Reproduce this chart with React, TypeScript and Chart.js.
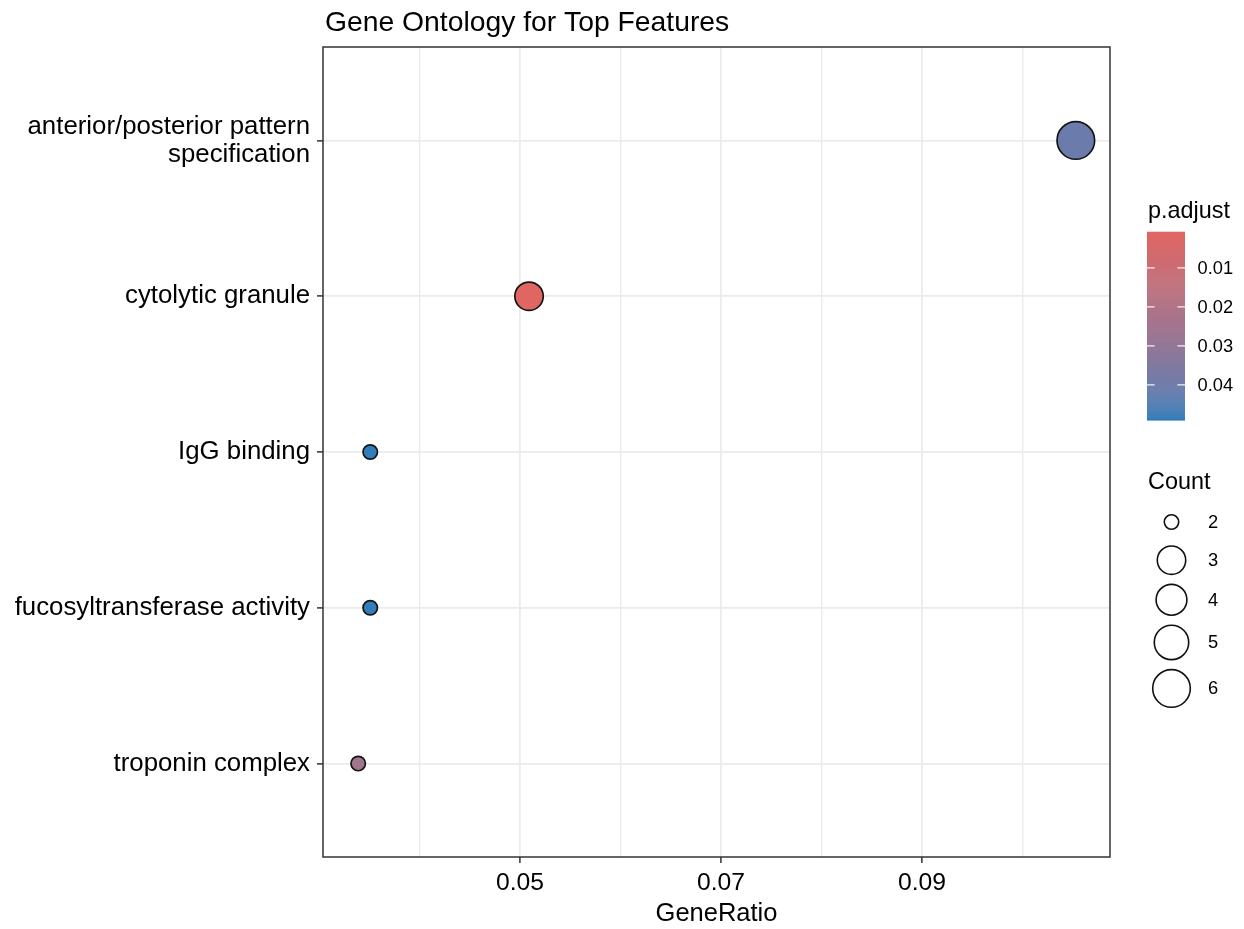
import React, { useEffect, useRef } from "react";
import { Chart, registerables } from "chart.js";

Chart.register(...registerables);

// ---- data ----
const terms: string[][] = [
  ["anterior/posterior pattern", "specification"],
  ["cytolytic granule"],
  ["IgG binding"],
  ["fucosyltransferase activity"],
  ["troponin complex"],
];
const geneRatio = [0.1053, 0.0509, 0.0351, 0.0351, 0.0339];
const geneCount = [6, 3, 2, 2, 2];
const pAdjust = [0.0405, 0.0007, 0.049, 0.0489, 0.0252];

const xMajorTicks = [0.05, 0.07, 0.09];
const xMinorGrid = [0.04, 0.06, 0.08, 0.1];
const colorBreaks = [0.01, 0.02, 0.03, 0.04];
const countBreaks = [2, 3, 4, 5, 6];

// ---- style ----
const FONT = '"Liberation Sans", Arial, sans-serif';
const LOW_COLOR = "#e06663";
const HIGH_COLOR = "#327eba";
const GRID_COLOR = "#ebebeb";
const INK = "#333333";
const COUNT_RADIUS: Record<number, number> = { 2: 7.2, 3: 14.2, 4: 15.4, 5: 17.2, 6: 18.8 };
const X_MIN = 0.0304;
const X_MAX = 0.1087;

// ---- colour interpolation in CIE Lab ----
function hexToRgb(h: string): number[] {
  const v = parseInt(h.slice(1), 16);
  return [(v >> 16) & 255, (v >> 8) & 255, v & 255];
}
const toLin = (c: number) => {
  c /= 255;
  return c <= 0.04045 ? c / 12.92 : Math.pow((c + 0.055) / 1.055, 2.4);
};
const fromLin = (c: number) => {
  const v = c <= 0.0031308 ? 12.92 * c : 1.055 * Math.pow(c, 1 / 2.4) - 0.055;
  return Math.round(Math.max(0, Math.min(1, v)) * 255);
};
const XN = 0.95047, YN = 1, ZN = 1.08883;
function rgbToLab(rgb: number[]): number[] {
  const [r, g, b] = rgb.map(toLin);
  const X = 0.4124 * r + 0.3576 * g + 0.1805 * b;
  const Y = 0.2126 * r + 0.7152 * g + 0.0722 * b;
  const Z = 0.0193 * r + 0.1192 * g + 0.9505 * b;
  const f = (t: number) => (t > 0.008856 ? Math.cbrt(t) : 7.787 * t + 16 / 116);
  const fx = f(X / XN), fy = f(Y / YN), fz = f(Z / ZN);
  return [116 * fy - 16, 500 * (fx - fy), 200 * (fy - fz)];
}
function labToRgb(lab: number[]): number[] {
  const [L, a, b] = lab;
  const fy = (L + 16) / 116;
  const fx = fy + a / 500;
  const fz = fy - b / 200;
  const inv = (t: number) => (t * t * t > 0.008856 ? t * t * t : (t - 16 / 116) / 7.787);
  const X = XN * inv(fx), Y = YN * inv(fy), Z = ZN * inv(fz);
  const r = 3.2406 * X - 1.5372 * Y - 0.4986 * Z;
  const g = -0.9689 * X + 1.8758 * Y + 0.0415 * Z;
  const bb = 0.0557 * X - 0.204 * Y + 1.057 * Z;
  return [fromLin(r), fromLin(g), fromLin(bb)];
}
const LOW_LAB = rgbToLab(hexToRgb(LOW_COLOR));
const HIGH_LAB = rgbToLab(hexToRgb(HIGH_COLOR));
const P_MIN = Math.min(...pAdjust);
const P_MAX = Math.max(...pAdjust);
function colorAt(p: number): string {
  const t = Math.max(0, Math.min(1, (p - P_MIN) / (P_MAX - P_MIN)));
  const lab = LOW_LAB.map((v, i) => v + (HIGH_LAB[i] - v) * t);
  const [r, g, b] = labToRgb(lab);
  return `rgb(${r},${g},${b})`;
}

// ---- title, panel border and legends ----
const decorations = {
  id: "decorations",
  afterDatasetsDraw(chart: any) {
    const { ctx, chartArea: a } = chart;
    ctx.save();
    ctx.strokeStyle = INK;
    ctx.lineWidth = 1.5;
    ctx.strokeRect(a.left, a.top, a.right - a.left, a.bottom - a.top);
    ctx.restore();
  },
  afterDraw(chart: any) {
    const { ctx, chartArea: a } = chart;
    ctx.save();
    ctx.fillStyle = "#000";
    ctx.textAlign = "left";
    ctx.textBaseline = "alphabetic";
    ctx.font = `28.3px ${FONT}`;
    ctx.fillText("Gene Ontology for Top Features", a.left + 2, 31);

    // colour bar
    const lx = a.right + 37;
    ctx.font = `23.4px ${FONT}`;
    ctx.fillText("p.adjust", lx + 1, 218);
    const barTop = 231.7, barH = 188.3, barW = 38;
    const steps = 190;
    for (let i = 0; i < steps; i++) {
      const p = P_MIN + ((i + 0.5) / steps) * (P_MAX - P_MIN);
      ctx.fillStyle = colorAt(p);
      ctx.fillRect(lx, barTop + (i * barH) / steps, barW, barH / steps + 0.6);
    }
    ctx.strokeStyle = "rgba(255,255,255,0.9)";
    ctx.lineWidth = 1.3;
    ctx.font = `18.3px ${FONT}`;
    ctx.textBaseline = "middle";
    for (const b of colorBreaks) {
      const y = barTop + ((b - P_MIN) / (P_MAX - P_MIN)) * barH;
      ctx.beginPath();
      ctx.moveTo(lx, y);
      ctx.lineTo(lx + barW / 5, y);
      ctx.moveTo(lx + barW, y);
      ctx.lineTo(lx + barW - barW / 5, y);
      ctx.stroke();
      ctx.fillStyle = "#000";
      ctx.fillText(b.toFixed(2), lx + barW + 12.5, y + 1);
    }

    // size legend
    ctx.textBaseline = "alphabetic";
    ctx.font = `23.4px ${FONT}`;
    ctx.fillText("Count", lx + 1, 489);
    ctx.font = `18.3px ${FONT}`;
    ctx.textBaseline = "middle";
    let cy = 522;
    let prevH = 0;
    countBreaks.forEach((c, i) => {
      const r = COUNT_RADIUS[c];
      const h = Math.max(2 * r + 10, 38);
      if (i > 0) cy += (prevH + h) / 2;
      prevH = h;
      ctx.beginPath();
      ctx.arc(lx + 24.5, cy, r, 0, Math.PI * 2);
      ctx.fillStyle = "#fff";
      ctx.fill();
      ctx.strokeStyle = "#111";
      ctx.lineWidth = 1.6;
      ctx.stroke();
      ctx.fillStyle = "#000";
      ctx.fillText(String(c), lx + 61, cy + 1);
    });
    ctx.restore();
  },
};

export default function App() {
  const canvasRef = useRef<HTMLCanvasElement | null>(null);

  useEffect(() => {
    const canvas = canvasRef.current;
    if (!canvas) return;
    const majorSet = new Set(xMajorTicks.map((v) => v.toFixed(3)));
    const isMajor = (v: number) => majorSet.has(v.toFixed(3));

    const chart = new Chart(canvas, {
      type: "scatter",
      data: {
        datasets: [
          {
            data: geneRatio.map((x, i) => ({ x, y: i })),
            pointRadius: geneCount.map((c) => COUNT_RADIUS[c]),
            pointHoverRadius: geneCount.map((c) => COUNT_RADIUS[c]),
            pointBackgroundColor: pAdjust.map(colorAt),
            pointBorderColor: "#151515",
            pointBorderWidth: 1.7,
            pointHoverBorderWidth: 1.7,
          },
        ],
      },
      options: {
        responsive: false,
        animation: false,
        events: [],
        layout: { padding: { left: 0, top: 47, right: 134, bottom: 0 } },
        plugins: {
          legend: { display: false },
          tooltip: { enabled: false },
          title: { display: false },
        },
        scales: {
          x: {
            type: "linear",
            min: X_MIN,
            max: X_MAX,
            afterBuildTicks: (s: any) => {
              s.ticks = [...xMinorGrid, ...xMajorTicks]
                .sort((p, q) => p - q)
                .map((value) => ({ value }));
            },
            afterFit: (s: any) => {
              s.height = 72;
            },
            border: { display: false },
            grid: {
              color: GRID_COLOR,
              lineWidth: (c: any) => (c.tick && isMajor(c.tick.value) ? 1.8 : 1.4),
              tickColor: (c: any) => (c.tick && isMajor(c.tick.value) ? INK : "rgba(0,0,0,0)"),
              tickLength: 6,
              tickWidth: 1.5,
            },
            ticks: {
              autoSkip: false,
              maxRotation: 0,
              padding: 5,
              color: "#000",
              font: { family: FONT, size: 24.7 },
              callback: (v: any) => (isMajor(Number(v)) ? Number(v).toFixed(2) : ""),
            },
            title: {
              display: true,
              text: "GeneRatio",
              color: "#000",
              font: { family: FONT, size: 25.5 },
              padding: { top: 0, bottom: 0 },
            },
          },
          y: {
            type: "linear",
            min: -0.6,
            max: terms.length - 1 + 0.6,
            reverse: true,
            afterBuildTicks: (s: any) => {
              s.ticks = terms.map((_, i) => ({ value: i }));
            },
            afterFit: (s: any) => {
              s.width = 323;
            },
            border: { display: false },
            grid: {
              color: GRID_COLOR,
              lineWidth: 1.8,
              tickColor: INK,
              tickLength: 6,
              tickWidth: 1.5,
            },
            ticks: {
              autoSkip: false,
              padding: 7,
              color: "#000",
              font: { family: FONT, size: 25.8, lineHeight: 1.09 },
              callback: (v: any) => {
                const lines = terms[Math.round(Number(v))];
                return lines.length > 1 ? lines : lines[0];
              },
            },
          },
        },
      },
      plugins: [decorations],
    } as any);

    return () => chart.destroy();
  }, []);

  return (
    <div style={{ position: "fixed", left: 0, top: 0, width: 1244, height: 929, background: "#fff" }}>
      <canvas ref={canvasRef} width={1244} height={929} style={{ width: 1244, height: 929, display: "block" }} />
    </div>
  );
}
